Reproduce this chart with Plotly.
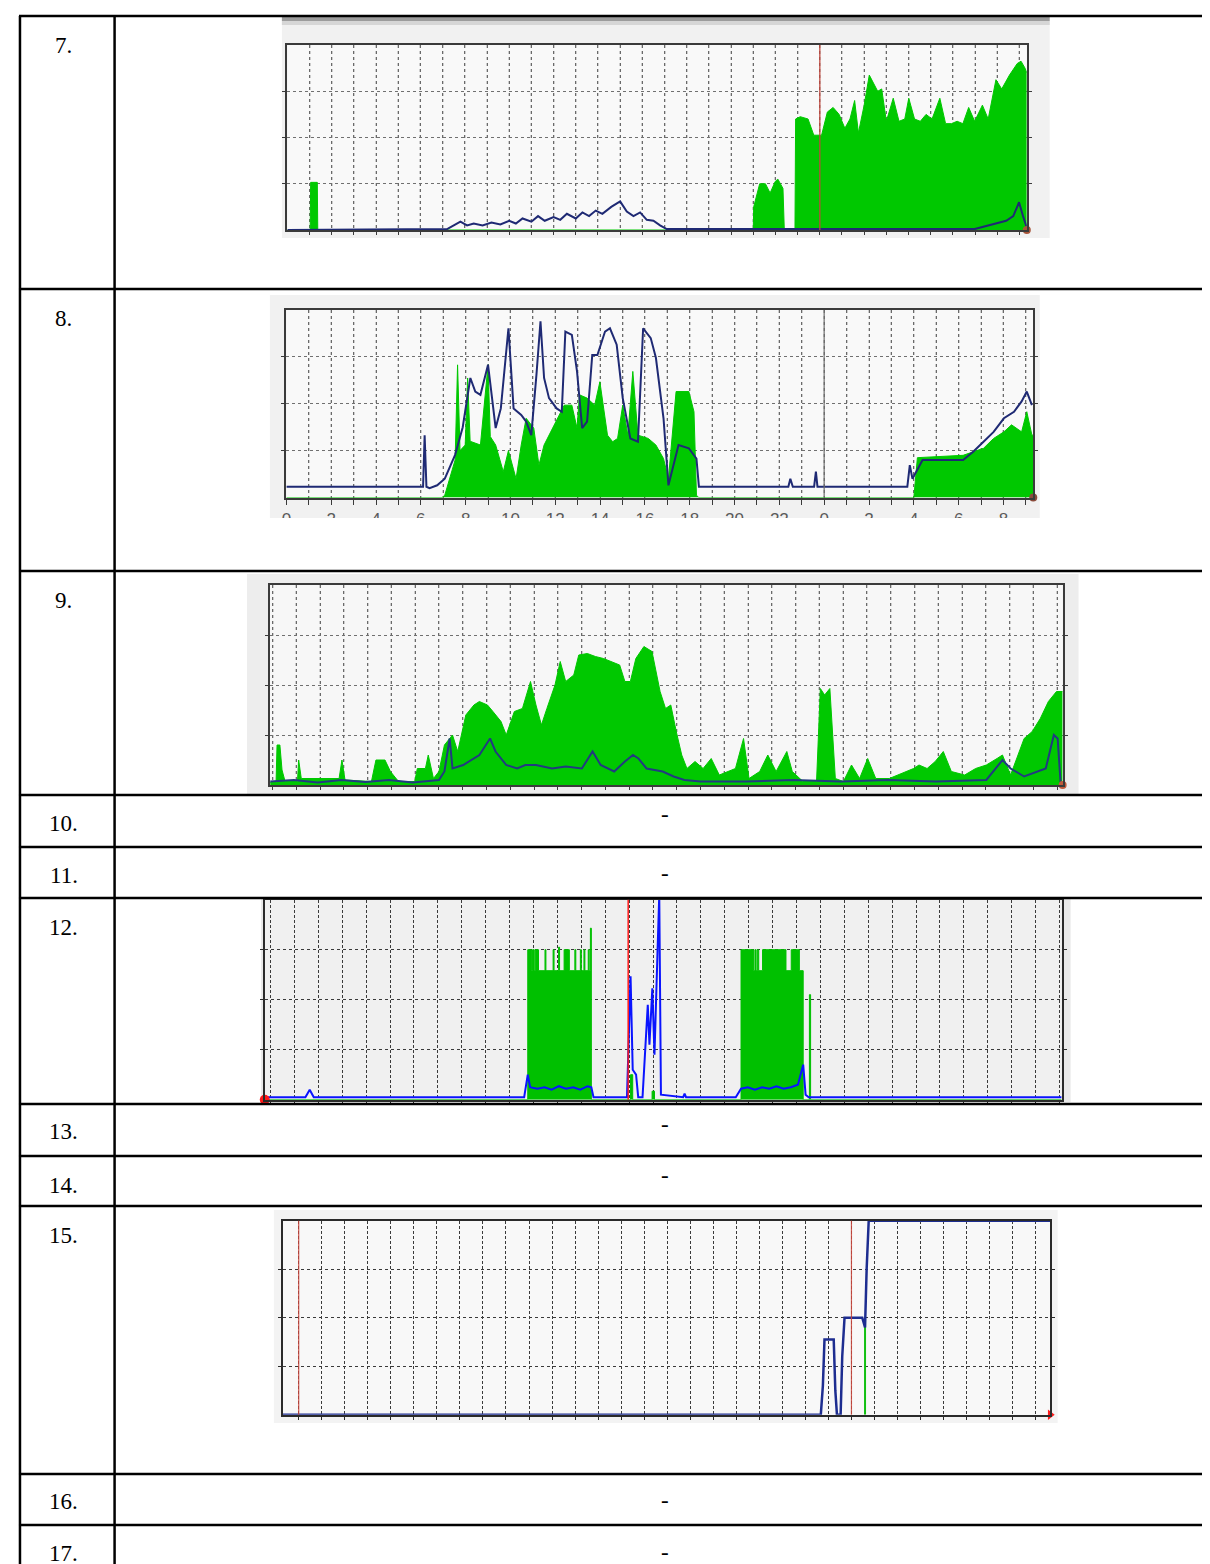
import plotly.graph_objects as go

W, H = 1210, 1564
SPAN = 33.33  # hours covered by one MRTG daily graph

# ---------------- table content ----------------
row_labels = ["7.", "8.", "9.", "10.", "11.", "12.", "13.", "14.", "15.", "16.", "17."]
empty_rows = ["10.", "11.", "13.", "14.", "16.", "17."]

# ---------------- chart 7 (row 7) ----------------
c7_in_x = [0, 1.03, 1.05, 1.35, 1.37, 21.0, 21.02, 21.29, 21.55, 21.76, 21.99, 22.11, 22.34, 22.4, 22.88,
           22.91, 23.12, 23.47, 23.73, 24.08, 24.34, 24.6, 24.87, 25.13, 25.36, 25.57, 25.74, 26.0, 26.23,
           26.44, 26.61, 26.79, 27.0, 27.31, 27.57, 27.83, 28.01, 28.27, 28.53, 28.79, 29.06, 29.41, 29.67,
           29.93, 30.19, 30.45, 30.71, 30.98, 31.33, 31.59, 31.94, 32.2, 32.55, 32.9, 33.07, 33.25, 33.33]
c7_in_y = [0, 0, 1.03, 1.03, 0, 0, 0.5, 1.0, 1.0, 0.8, 1.05, 1.1, 0.9, 0, 0,
           2.4, 2.45, 2.4, 2.05, 2.05, 2.55, 2.65, 2.5, 2.2, 2.4, 2.8, 2.1, 2.7, 3.35,
           3.15, 3.0, 3.05, 2.35, 2.85, 2.35, 2.4, 2.85, 2.4, 2.35, 2.5, 2.4, 2.85, 2.3,
           2.3, 2.35, 2.3, 2.65, 2.35, 2.7, 2.4, 3.25, 3.05, 3.35, 3.6, 3.65, 3.5, 3.4]
c7_out_x = [0, 7.2, 7.5, 7.8, 8.1, 8.4, 8.8, 9.2, 9.6, 10.0, 10.3, 10.6, 11.0, 11.3, 11.6, 12.0, 12.3, 12.6,
            13.0, 13.3, 13.6, 13.9, 14.2, 14.6, 15.0, 15.3, 15.6, 15.9, 16.2, 16.5, 16.8, 17.1, 30.98, 31.5,
            32.03, 32.4, 32.72, 32.98, 33.16, 33.33]
c7_out_y = [0, 0.02, 0.1, 0.18, 0.1, 0.14, 0.1, 0.16, 0.12, 0.2, 0.14, 0.25, 0.18, 0.3, 0.2, 0.28, 0.22, 0.35,
            0.25, 0.38, 0.3, 0.42, 0.35, 0.5, 0.62, 0.4, 0.3, 0.38, 0.22, 0.2, 0.1, 0.02, 0.02, 0.08,
            0.15, 0.2, 0.3, 0.6, 0.3, 0.05]
c7_midnight = [24.0]

# ---------------- chart 8 (row 8) ----------------
c8_in_x = [0, 6.95, 7.07, 7.3, 7.53, 7.64, 7.75, 7.98, 8.09, 8.2, 8.66, 9.0, 9.1, 9.34, 9.68, 9.91, 10.25,
           10.48, 10.7, 11.04, 11.27, 11.5, 11.72, 12.06, 12.4, 12.74, 12.97, 13.08, 13.42, 13.76, 13.99,
           14.33, 14.56, 14.78, 15.01, 15.24, 15.46, 15.69, 16.15, 16.49, 16.83, 17.05, 17.39, 17.96, 18.19,
           18.3, 18.4, 28.0, 28.16, 30.2, 30.66, 31.11, 31.56, 32.02, 32.36, 32.81, 33.04, 33.27, 33.33]
c8_in_y = [0, 0, 0.05, 0.4, 0.8, 2.83, 1.0, 1.12, 2.55, 1.2, 1.12, 2.83, 1.3, 1.12, 0.55, 1.0, 0.4,
           1.12, 1.69, 1.48, 0.69, 1.12, 1.33, 1.62, 1.97, 1.97, 1.48, 2.19, 2.12, 1.97, 2.47,
           1.33, 1.19, 1.26, 1.97, 1.33, 2.69, 1.33, 1.26, 1.12, 0.83, 0.4, 2.26, 2.26, 1.83,
           0.05, 0, 0, 0.85, 0.9, 0.98, 1.05, 1.26, 1.4, 1.55, 1.4, 1.83, 1.33, 1.33]
c8_out_x = [0, 6.1, 6.17, 6.25, 6.39, 6.73, 7.07, 7.53, 7.87, 8.21, 8.43, 8.66, 9.0, 9.34, 9.57, 9.91, 10.14,
            10.48, 10.7, 10.93, 11.16, 11.34, 11.5, 11.72, 12.06, 12.29, 12.45, 12.74, 12.97, 13.2, 13.42,
            13.65, 13.88, 14.22, 14.44, 14.74, 15.01, 15.35, 15.69, 15.92, 16.26, 16.49, 16.83, 17.05, 17.5,
            17.96, 18.3, 18.41, 22.4, 22.49, 22.6, 23.55, 23.63, 23.7, 27.71, 27.82, 27.94, 28.39, 30.2,
            30.66, 31.11, 31.56, 32.02, 32.47, 32.81, 33.04, 33.27]
c8_out_y = [0.23, 0.23, 1.33, 0.23, 0.2, 0.26, 0.4, 0.91, 1.5, 2.55, 2.26, 2.19, 2.83, 1.48, 1.9, 3.61, 1.9,
            1.76, 1.62, 1.33, 2.62, 3.76, 2.55, 2.12, 1.9, 1.83, 3.54, 3.47, 2.69, 1.48, 1.62,
            3.04, 3.04, 3.54, 3.61, 3.26, 2.12, 1.26, 1.19, 3.61, 3.4, 2.98, 1.69, 0.26, 1.12,
            1.05, 0.83, 0.23, 0.23, 0.4, 0.23, 0.23, 0.55, 0.23, 0.23, 0.69, 0.4, 0.8, 0.8,
            0.98, 1.19, 1.4, 1.69, 1.83, 2.05, 2.26, 1.97]
c8_tick_hours = [0, 2, 4, 6, 8, 10, 12, 14, 16, 18, 20, 22, 24, 26, 28, 30, 32]
c8_tick_labels = ["0", "2", "4", "6", "8", "10", "12", "14", "16", "18", "20", "22", "0", "2", "4", "6", "8"]
c8_midnight = [24.0]

# ---------------- chart 9 (row 9) ----------------
c9_in_x = [0, 0.25, 0.29, 0.41, 0.5, 0.63, 1.15, 1.2, 1.31, 2.9, 3.02, 3.15, 4.26, 4.45, 4.83, 5.06, 5.4,
           6.08, 6.19, 6.53, 6.65, 6.87, 7.1, 7.33, 7.67, 7.89, 8.23, 8.57, 8.8, 9.14, 9.37, 9.71, 9.93,
           10.27, 10.61, 10.95, 11.18, 11.41, 11.64, 11.98, 12.2, 12.43, 12.77, 12.98, 13.34, 13.68, 14.02,
           14.36, 14.7, 14.92, 15.15, 15.38, 15.72, 16.06, 16.4, 16.63, 16.85, 17.08, 17.31, 17.53, 17.87,
           18.21, 18.55, 18.89, 19.23, 19.57, 19.91, 20.14, 20.59, 20.93, 21.28, 21.73, 21.96, 22.41, 22.98,
           23.14, 23.32, 23.54, 23.77, 24.11, 24.45, 24.79, 25.13, 25.47, 26.04, 26.38, 27.06, 27.29, 27.63,
           27.97, 28.31, 28.65, 29.21, 29.67, 30.12, 30.57, 30.8, 31.14, 31.71, 32.05, 32.39, 32.73, 33.07,
           33.33]
c9_in_y = [0.05, 0.05, 0.8, 0.8, 0.3, 0.07, 0.07, 0.5, 0.13, 0.13, 0.5, 0.1, 0.07, 0.5, 0.5, 0.27, 0.07,
           0.07, 0.33, 0.33, 0.6, 0.13, 0.27, 0.8, 1.0, 0.67, 1.4, 1.6, 1.67, 1.6, 1.47, 1.27, 1.0,
           1.47, 1.53, 2.07, 1.6, 1.2, 1.53, 2.0, 2.47, 2.07, 2.2, 2.6, 2.63, 2.57, 2.53,
           2.47, 2.4, 2.07, 2.07, 2.53, 2.77, 2.67, 1.87, 1.53, 1.6, 1.07, 0.6, 0.33, 0.47,
           0.33, 0.53, 0.2, 0.27, 0.33, 0.93, 0.13, 0.27, 0.6, 0.27, 0.67, 0.27, 0.07, 0.07,
           1.93, 1.8, 1.93, 0.13, 0.07, 0.4, 0.13, 0.53, 0.13, 0.13, 0.2, 0.33, 0.4, 0.33,
           0.47, 0.67, 0.27, 0.2, 0.33, 0.4, 0.53, 0.6, 0.2, 0.93, 1.07, 1.33, 1.67, 1.87,
           1.87]
c9_out_x = [0, 1.0, 2.0, 3.0, 4.0, 5.0, 6.0, 7.1, 7.33, 7.55, 7.67, 8.12, 8.8, 9.25, 9.48, 9.93, 10.39,
            10.73, 11.18, 11.86, 12.43, 13.11, 13.56, 13.9, 14.47, 14.92, 15.26, 15.49, 15.83, 16.51, 16.97,
            17.42, 18.1, 20.0, 22.0, 24.0, 26.0, 28.0, 30.12, 30.8, 31.14, 31.71, 32.62, 32.96, 33.12, 33.25]
c9_out_y = [0.07, 0.1, 0.05, 0.1, 0.06, 0.1, 0.05, 0.1, 0.27, 0.93, 0.33, 0.4, 0.6, 0.93, 0.67, 0.4, 0.33,
            0.4, 0.4, 0.33, 0.37, 0.33, 0.67, 0.4, 0.27, 0.47, 0.6, 0.53, 0.33, 0.27, 0.17,
            0.1, 0.07, 0.07, 0.1, 0.07, 0.1, 0.07, 0.1, 0.5, 0.33, 0.17, 0.33, 1.0, 0.93, 0.0]

# ---------------- chart 12 (row 12) ----------------
c12_in_x = [0, 10.98, 11.0, 11.16, 11.2, 11.27, 11.31, 11.45, 11.72, 11.76, 12.06, 12.1, 12.29, 12.33, 12.52,
            12.74, 12.97, 13.01, 13.2, 13.24, 13.35, 13.39, 13.53, 13.57, 13.62, 13.66, 15.3, 15.39, 16.2,
            16.3, 19.92, 20.44, 20.5, 20.55, 20.6, 20.66, 20.82, 21.8, 22.02, 22.36, 22.52, 22.78, 22.83, 33.33]
c12_in_y = [0, 0, 3.0, 2.58, 3.0, 2.58, 3.0, 2.58, 3.0, 2.58, 3.0, 2.58, 3.05, 2.58, 3.0,
            2.58, 3.0, 2.58, 3.0, 2.58, 3.0, 2.58, 3.0, 2.58, 3.43, 0, 0.5, 0, 0.17,
            0, 3.0, 2.58, 3.0, 2.58, 3.0, 2.58, 3.0, 2.58, 3.0, 2.58, 0, 2.1, 0, 0]
c12_out_x = [0, 1.7, 1.88, 2.05, 10.85, 11.0, 11.1, 11.4, 11.7, 12.0, 12.3, 12.6, 12.9, 13.2, 13.5, 13.66,
             13.75, 15.15, 15.3, 15.39, 15.53, 15.62, 15.8, 15.91, 16.02, 16.09, 16.21, 16.3, 16.36, 16.43,
             16.5, 16.57, 17.5, 17.56, 17.62, 19.7, 19.92, 20.2, 20.5, 20.8, 21.1, 21.4, 21.7, 22.0, 22.3,
             22.52, 22.62, 22.75, 33.33]
c12_out_y = [0.05, 0.05, 0.2, 0.05, 0.05, 0.5, 0.25, 0.22, 0.25, 0.2, 0.27, 0.22, 0.25, 0.2, 0.27, 0.25,
             0.05, 0.05, 2.47, 0.6, 0.5, 0.05, 0.05, 1.0, 1.9, 1.1, 2.23, 0.9, 1.7, 3.0,
             4.1, 0.1, 0.05, 0.12, 0.05, 0.05, 0.22, 0.25, 0.2, 0.25, 0.22, 0.27, 0.22, 0.25, 0.3,
             0.7, 0.1, 0.05, 0.05]
c12_midnight = [15.2]

# ---------------- chart 15 (row 15) ----------------
c15_out_x = [0, 23.37, 23.46, 23.53, 23.93, 24.0, 24.07, 24.23, 24.3, 24.4, 25.17, 25.29, 25.36, 25.45, 33.33]
c15_out_y = [0, 0, 0.6, 1.55, 1.55, 0.5, 0, 0, 1.2, 2.0, 2.0, 1.8, 3.0, 4.0, 4.0]
c15_in_x = [25.29, 25.29]
c15_in_y = [0, 2.0]
c15_midnight = [0.7, 24.7]

# ---------------- layout constants (pixels) ----------------
ROW_TOPS = [8, 281, 563, 787, 839, 890, 1096, 1148, 1198, 1466, 1517]
LABEL_OFFSET = [29, 29, 29, 28, 28, 29, 27, 29, 29, 27, 28]
DASH_OFFSET = {"10.": 19, "11.": 26, "13.": 20, "14.": 19, "16.": 26, "17.": 27}
TABLE_BOTTOM = 1566
TABLE_LEFT, COL_X = 7, 102
LABEL_X = 51
DASH_X = 655
TEXT_FONT = dict(family="Liberation Serif", size=23, color="black")

GREEN = "#00c800"
NAVY = "#1f2a74"

charts = [
    dict(n=1, img=(270, 9, 1041, 230), plot=(275.5, 37, 1018, 222), grid0=1.0, crisp=False,
         img_bg="#f1f1f1", plot_bg="#f9f9f9"),
    dict(n=2, img=(258, 287, 1031, 510), plot=(274.5, 302, 1024.5, 489.5), grid0=1.0, crisp=False,
         img_bg="#f1f1f1", plot_bg="#f9f9f9"),
    dict(n=3, img=(235, 566, 1070, 787), plot=(258.2, 577, 1054, 777), grid0=0.1, crisp=False,
         img_bg="#ededed", plot_bg="#f7f7f7"),
    dict(n=4, img=(249, 890, 1062, 1094), plot=(252.8, 891.7, 1053, 1091.7), grid0=0.24, crisp=True,
         img_bg="#e9e9e9", plot_bg="#f0f0f0"),
    dict(n=5, img=(262, 1202, 1049, 1415), plot=(270.7, 1212.7, 1041.5, 1406.7), grid0=0.7, crisp=True,
         img_bg="#f3f3f3", plot_bg="#f8f8f8"),
]


def px(x):
    return x / W


def py(y):
    return 1 - y / H


def ax(n):
    return ("x", "y") if n == 1 else (f"x{n}", f"y{n}")


fig = go.Figure()
shapes = []
annotations = []
layout_axes = {}

for c in charts:
    n = c["n"]
    xa, ya = ax(n)
    ix0, iy0, ix1, iy1 = c["img"]
    x0, y0, x1, y1 = c["plot"]
    shapes.append(dict(type="rect", xref="paper", yref="paper", x0=px(ix0), x1=px(ix1), y0=py(iy1), y1=py(iy0),
                       fillcolor=c["img_bg"], line=dict(width=0), layer="below"))
    shapes.append(dict(type="rect", xref="paper", yref="paper", x0=px(x0), x1=px(x1), y0=py(y1), y1=py(y0),
                       fillcolor=c["plot_bg"], line=dict(width=0), layer="below"))
    grid = [round(c["grid0"] + k, 3) for k in range(0, 40) if 0 < c["grid0"] + k < SPAN]
    if c["crisp"]:
        vgrid = dict(gridcolor="#3a3a3a", griddash="3px,2px", gridwidth=1)
        hgrid = dict(gridcolor="#3a3a3a", griddash="dot", gridwidth=1)
        frame = "#2a2a2a"
    else:
        vgrid = dict(gridcolor="#6a6a6a", griddash="dot", gridwidth=1)
        hgrid = dict(gridcolor="#707070", griddash="dot", gridwidth=1)
        frame = "#3a3a3a"
    xdict = dict(domain=[px(x0), px(x1)], range=[0, SPAN], anchor=ya, showgrid=True, zeroline=False,
                 tickmode="array", tickvals=grid, showticklabels=False,
                 ticks="outside", ticklen=3, tickcolor=frame, tickwidth=1,
                 showline=True, mirror=True, linecolor=frame, linewidth=2, fixedrange=True, **vgrid)
    if not c["crisp"]:
        xdict["minor"] = dict(tickmode="array", tickvals=grid, showgrid=True,
                              gridcolor="rgba(175,175,175,0.6)", gridwidth=2)
    if n == 2:
        tv = sorted(set(grid + c8_tick_hours))
        lab = dict(zip(c8_tick_hours, c8_tick_labels))
        xdict.update(tickvals=tv, ticktext=[lab.get(h, "") for h in tv], showticklabels=True,
                     tickfont=dict(family="Liberation Sans", size=17, color="#5a5a5a"), ticklen=5)
    ydict = dict(domain=[py(y1), py(y0)], range=[0, 4], anchor=xa, showgrid=True, zeroline=False,
                 tickmode="array", tickvals=[1, 2, 3], showticklabels=False,
                 ticks="outside", ticklen=3, tickcolor=frame,
                 showline=True, mirror="ticks", linecolor=frame, linewidth=2, fixedrange=True, **hgrid)
    layout_axes["xaxis" if n == 1 else f"xaxis{n}"] = xdict
    layout_axes["yaxis" if n == 1 else f"yaxis{n}"] = ydict

# chart 7 top grey bar of the screenshot
shapes.append(dict(type="rect", xref="paper", yref="paper", x0=px(270), x1=px(1041), y0=py(13), y1=py(9),
                   fillcolor="#9c9c9c", line=dict(width=0), layer="below"))
shapes.append(dict(type="rect", xref="paper", yref="paper", x0=px(270), x1=px(1041), y0=py(17), y1=py(13),
                   fillcolor="#d6d6d6", line=dict(width=0), layer="below"))


def add_area(n, xs, ys, color, shape="linear"):
    xa, ya = ax(n)
    fig.add_trace(go.Scatter(x=xs, y=ys, xaxis=xa, yaxis=ya, mode="lines", fill="tozeroy",
                             line=dict(color=color, width=1, shape=shape), fillcolor=color,
                             hoverinfo="skip", showlegend=False))


def add_line(n, xs, ys, color, width=2):
    xa, ya = ax(n)
    fig.add_trace(go.Scatter(x=xs, y=ys, xaxis=xa, yaxis=ya, mode="lines",
                             line=dict(color=color, width=width), hoverinfo="skip", showlegend=False))


def add_end_mark(n, xv, color, symbol="circle", size=8):
    xa, ya = ax(n)
    fig.add_trace(go.Scatter(x=[xv], y=[0], xaxis=xa, yaxis=ya, mode="markers", cliponaxis=False,
                             marker=dict(color=color, size=size, symbol=symbol), hoverinfo="skip",
                             showlegend=False))


def add_vline(n, hours, color, width=1.5):
    xa, ya = ax(n)
    for h in hours:
        shapes.append(dict(type="line", xref=xa, yref=f"{ya} domain", x0=h, x1=h, y0=0, y1=1,
                           line=dict(color=color, width=width), layer="above"))


# chart 7
add_area(1, c7_in_x, c7_in_y, GREEN)
add_line(1, c7_out_x, c7_out_y, NAVY)
add_vline(1, c7_midnight, "rgba(190,70,60,0.85)", 1.5)
add_end_mark(1, SPAN, "#a8553a")

# chart 8
add_area(2, c8_in_x, c8_in_y, GREEN)
add_line(2, c8_out_x, c8_out_y, NAVY)
add_vline(2, c8_midnight, "rgba(110,110,110,0.8)", 1.5)
add_end_mark(2, SPAN, "#8a4a3a")

# chart 9
add_area(3, c9_in_x, c9_in_y, GREEN)
add_line(3, c9_out_x, c9_out_y, "#223a80")
add_end_mark(3, SPAN, "#c05a3a")

# chart 12
add_area(4, c12_in_x, c12_in_y, "#00c000", shape="hv")
add_line(4, c12_out_x, c12_out_y, "#0a14ff", 2)
add_vline(4, c12_midnight, "#ff1a1a", 1.5)
add_end_mark(4, 0, "#ff1a1a", size=10)

# chart 15
add_line(5, c15_in_x, c15_in_y, "#12c012", 2)
add_line(5, c15_out_x, c15_out_y, "#1d2d90", 2.5)
add_vline(5, c15_midnight, "rgba(200,70,60,0.9)", 1.2)
add_end_mark(5, SPAN, "#ff1a1a", symbol="triangle-right", size=9)

# white strip cutting the tick labels of chart 8 (the screenshot is cropped there)
shapes.append(dict(type="rect", xref="paper", yref="paper", x0=px(250), x1=px(1040), y0=py(540), y1=py(510),
                   fillcolor="white", line=dict(width=0), layer="above"))

# ---------------- table lines ----------------
LW = 2.5
for yv in ROW_TOPS:
    shapes.append(dict(type="line", xref="paper", yref="paper", x0=px(TABLE_LEFT - 1), x1=1,
                       y0=py(yv), y1=py(yv), line=dict(color="black", width=LW), layer="above"))
for xv in [TABLE_LEFT, COL_X]:
    shapes.append(dict(type="line", xref="paper", yref="paper", x0=px(xv), x1=px(xv),
                       y0=py(ROW_TOPS[0]), y1=py(TABLE_BOTTOM), line=dict(color="black", width=LW), layer="above"))

for lbl, top, off in zip(row_labels, ROW_TOPS, LABEL_OFFSET):
    annotations.append(dict(xref="paper", yref="paper", x=px(LABEL_X), y=py(top + off), text=lbl, showarrow=False,
                            xanchor="center", yanchor="middle", font=TEXT_FONT))
    if lbl in empty_rows:
        annotations.append(dict(xref="paper", yref="paper", x=px(DASH_X), y=py(top + DASH_OFFSET[lbl]), text="-",
                                showarrow=False, xanchor="center", yanchor="middle", font=TEXT_FONT))

fig.update_layout(width=W, height=H, margin=dict(l=0, r=0, t=0, b=0), paper_bgcolor="white",
                  plot_bgcolor="rgba(0,0,0,0)", shapes=shapes, annotations=annotations, showlegend=False,
                  **layout_axes)

fig.write_html("out.html")
